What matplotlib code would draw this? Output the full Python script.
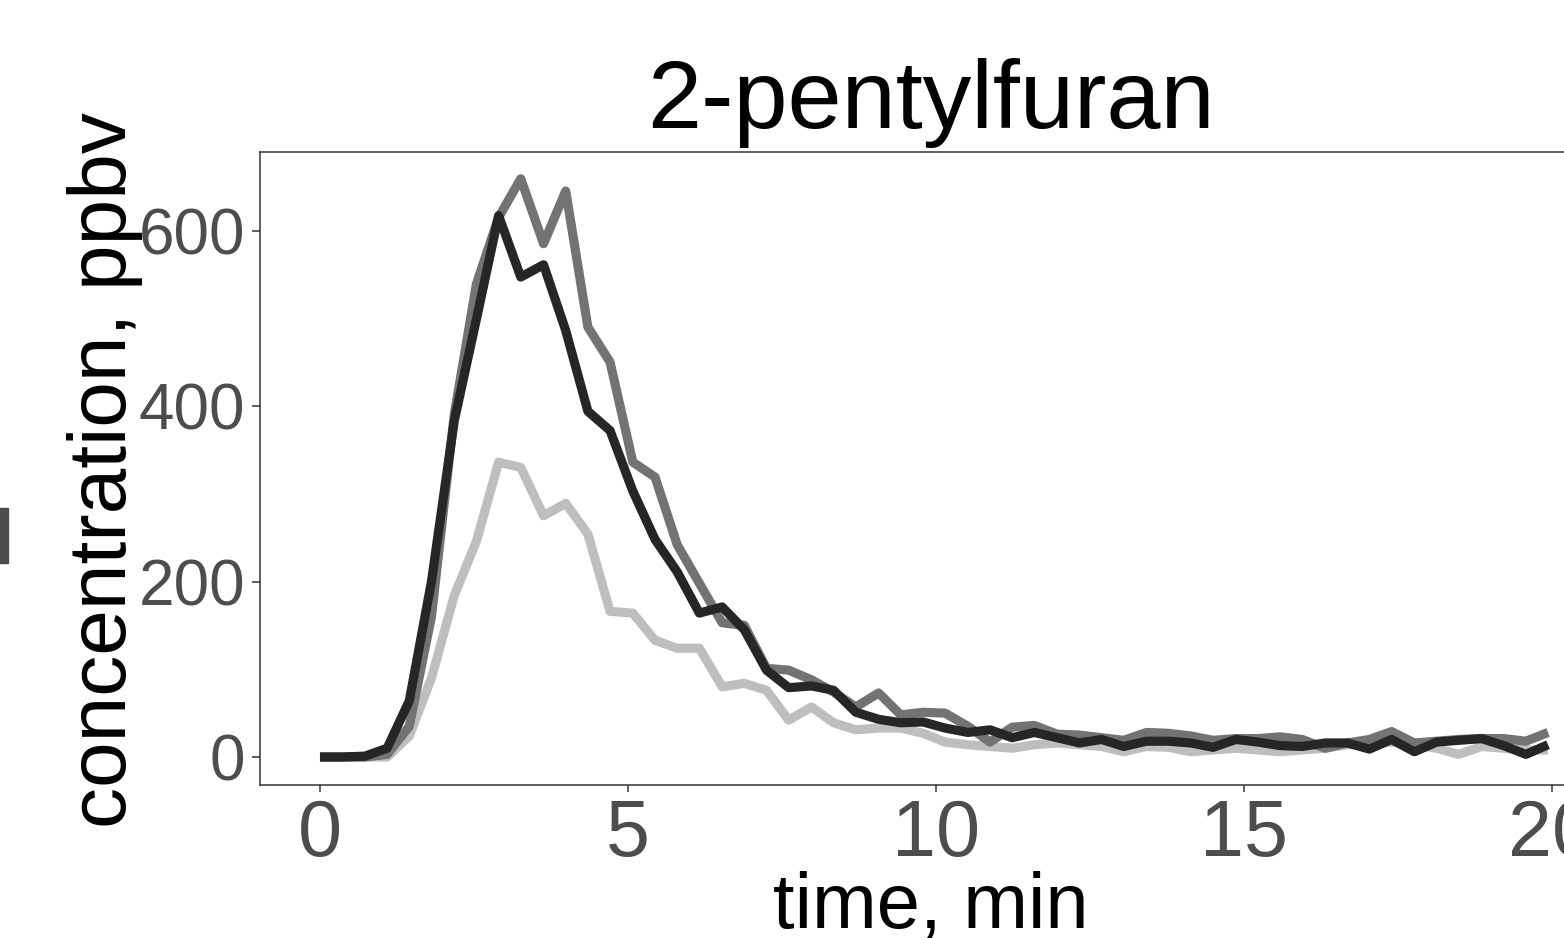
import matplotlib
matplotlib.use("Agg")
import matplotlib.pyplot as plt
from matplotlib.patches import Rectangle

plt.rcParams['font.family'] = ['Liberation Sans', 'DejaVu Sans']

time_min = [0.00, 0.36, 0.73, 1.09, 1.45, 1.81, 2.18, 2.54, 2.90, 3.26, 3.63, 3.99,
            4.35, 4.71, 5.08, 5.44, 5.80, 6.16, 6.53, 6.89, 7.25, 7.61, 7.98, 8.34,
            8.70, 9.07, 9.43, 9.79, 10.15, 10.52, 10.88, 11.24, 11.60, 11.97, 12.33,
            12.69, 13.05, 13.42, 13.78, 14.14, 14.50, 14.87, 15.23, 15.59, 15.95,
            16.32, 16.68, 17.04, 17.40, 17.77, 18.13, 18.49, 18.86, 19.22, 19.58, 19.94]

series_light = [0, 0, 0, 0, 24, 90, 184, 246, 336, 330, 275, 289, 254, 166, 164, 133,
                124, 124, 80, 84, 76, 42, 57, 39, 31, 33, 33, 27, 17, 14, 12, 10, 14,
                16, 14, 12, 6, 12, 11, 6, 8, 10, 8, 6, 8, 10, 14, 17, 17, 14, 10, 3,
                12, 10, 8, 8]

series_mid = [0, 0, 0, 3, 35, 160, 390, 539, 615, 659, 585, 645, 490, 450, 336, 319,
              242, 198, 153, 150, 101, 99, 88, 74, 57, 73, 48, 51, 50, 35, 17, 34, 36,
              26, 25, 22, 19, 28, 27, 24, 19, 21, 21, 23, 20, 10, 16, 20, 29, 16, 18,
              20, 21, 21, 18, 28]

series_dark = [0, 0, 1, 10, 64, 200, 383, 499, 617, 547, 561, 486, 394, 372, 303, 248,
               211, 164, 171, 145, 99, 79, 81, 76, 51, 43, 39, 40, 33, 28, 31, 22, 28,
               22, 16, 20, 12, 18, 18, 16, 11, 20, 17, 13, 12, 16, 16, 9, 20, 6, 17,
               19, 21, 13, 3, 14]

x_ticks = [0, 5, 10, 15, 20]
y_ticks = [0, 200, 400, 600]

W, H = 1564, 938
fig = plt.figure(figsize=(W / 100, H / 100), dpi=100)
fig.patch.set_facecolor('white')

ax_left, ax_right, ax_top, ax_bottom = 260, 1601, 152, 785
ax = fig.add_axes([ax_left / W, (H - ax_bottom) / H,
                   (ax_right - ax_left) / W, (ax_bottom - ax_top) / H])

line_kw = dict(lw=6.6, solid_joinstyle='round', solid_capstyle='butt')
ax.plot(time_min, series_light, color='#BEBEBE', **line_kw)
ax.plot(time_min, series_mid, color='#737373', **line_kw)
ax.plot(time_min, series_dark, color='#262626', **line_kw)

ax.set_xlim(-0.974, 20.8)
ax.set_ylim(-31.9, 689.5)
ax.set_xticks(x_ticks)
ax.set_yticks(y_ticks)
ax.set_xticklabels([str(v) for v in x_ticks])
ax.set_yticklabels([str(v) for v in y_ticks])

for s in ax.spines.values():
    s.set_color('#333333')
    s.set_linewidth(1.1)

ax.tick_params(axis='x', colors='#333333', labelcolor='#4D4D4D', labelsize=57,
               length=5, width=1.1, pad=4)
ax.tick_params(axis='y', colors='#333333', labelcolor='#4D4D4D', labelsize=46,
               length=5.5, width=1.1, pad=5)

ax.set_title('2-pentylfuran', fontsize=70, color='black', pad=17)

# axis titles
fig.text(931 / W, (H - 928) / H, 'time, min', fontsize=56, color='black',
         ha='center', va='baseline')
fig.text(126 / W, (H - 470) / H, 'concentration, ppbv', fontsize=59, color='black',
         rotation=90, rotation_mode='anchor', ha='center', va='baseline')

# clipped element from neighbouring panel at the left edge
fig.patches.append(Rectangle((0, (H - 563) / H), 8 / W, 55 / H,
                             transform=fig.transFigure, color='#4D4D4D', zorder=5))

fig.savefig('out.png', dpi=100, facecolor='white')
